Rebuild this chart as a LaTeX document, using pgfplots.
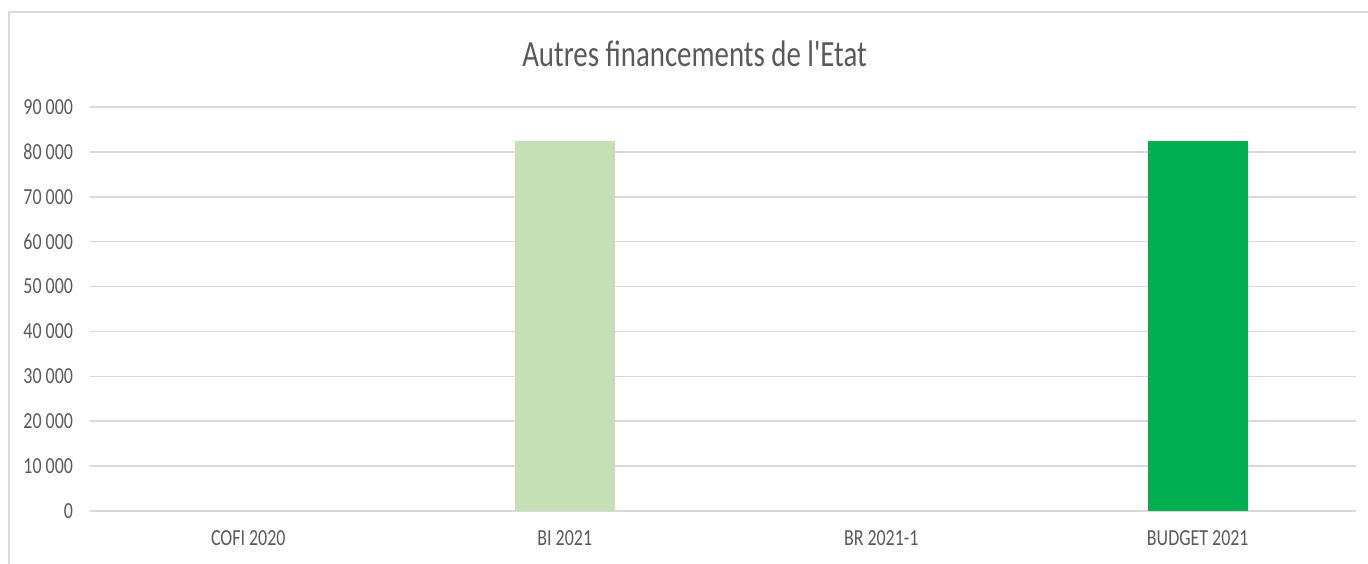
\documentclass[border=0pt]{standalone}
\usepackage{pgfplots}
\pgfplotsset{compat=1.18}
\usepackage{fontspec}
\setmainfont{Carlito}[FakeStretch=0.78, Ligatures=TeXOff]
\definecolor{txt}{HTML}{595959}
\definecolor{grd}{HTML}{D9D9D9}
\definecolor{lgreen}{HTML}{C5E0B4}
\definecolor{dgreen}{HTML}{00B050}
\begin{document}
\begin{tikzpicture}
\useasboundingbox (-45pt,-26pt) rectangle (639pt,255.5pt);
\draw[grd, line width=0.75pt] (-40.5pt,-30pt) -- (-40.5pt,249.5pt) -- (645pt,249.5pt);
\begin{axis}[at={(0pt,0pt)}, anchor=south west, scale only axis,
  width=633pt, height=202pt,
  xmin=-0.5, xmax=3.5, ymin=0, ymax=90000,
  scaled y ticks=false,
  xtick={0,1,2,3},
  xticklabels={COFI 2020, BI 2021, BR 2021-1, BUDGET 2021},
  ytick={0,10000,20000,30000,40000,50000,60000,70000,80000,90000},
  yticklabels={0,10 000,20 000,30 000,40 000,50 000,60 000,70 000,80 000,90 000},
  ymajorgrids, grid style={grd, line width=0.75pt},
  axis line style={draw=none}, major tick length=0pt,
  tick label style={font=\fontsize{11.5}{13}\selectfont, text=txt},
  yticklabel style={xshift=-5pt}, xticklabel style={yshift=-6.5pt},
  ybar, bar width=50pt, bar shift=0pt,
  clip=false]
\addplot[fill=lgreen, draw=none] coordinates {(1,82400)};
\addplot[fill=dgreen, draw=none] coordinates {(3,82400)};
\end{axis}
\node[anchor=base, text=txt, font=\fontsize{18.5}{22}\selectfont] at (302.25pt,222pt) {Autres financements de l'Etat};
\end{tikzpicture}
\end{document}
